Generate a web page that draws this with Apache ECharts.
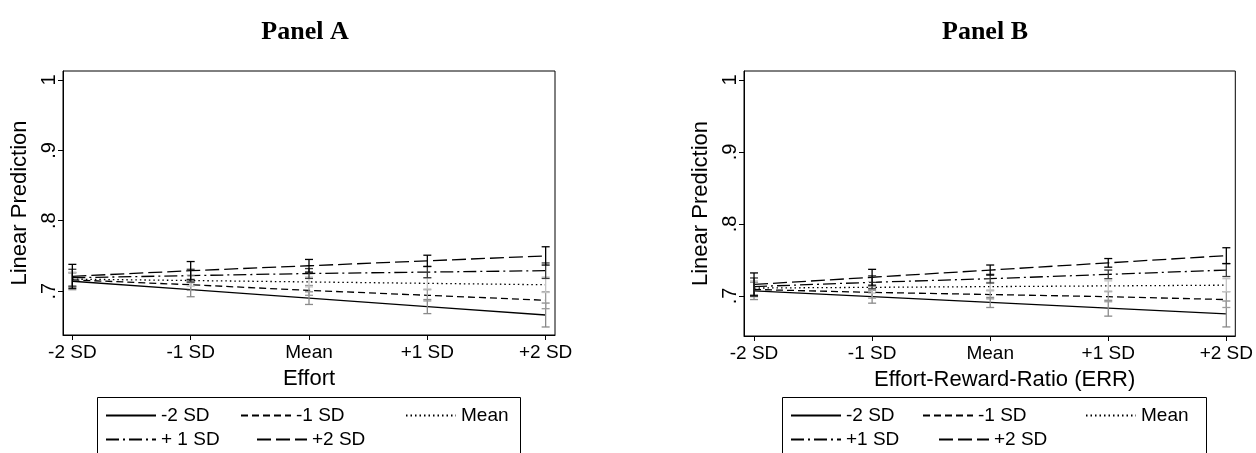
<!DOCTYPE html>
<html>
<head>
<meta charset="utf-8">
<script src="https://cdn.jsdelivr.net/npm/echarts@6/dist/echarts.min.js"></script>
<style>
  html, body { margin: 0; padding: 0; background: #fff; }
  #chart { width: 1256px; height: 453px; }
</style>
</head>
<body>
<div id="chart"></div>
<script>
// x positions (in SD units) and their labels
const xVals = [-2, -1, 0, 1, 2];
const xLabels = ['-2 SD', '-1 SD', 'Mean', '+1 SD', '+2 SD'];
const yTicks = [0.7, 0.8, 0.9, 1];

// Panel A: Effort, lines = moderator levels
const aM2 = [0.714, 0.702, 0.690, 0.678, 0.666];
const aM2ci = [0.012, 0.010, 0.009, 0.010, 0.017];
const aM1 = [0.716, 0.709, 0.701, 0.694, 0.687];
const aM1ci = [0.010, 0.008, 0.007, 0.008, 0.012];
const aMean = [0.717, 0.715, 0.713, 0.711, 0.709];
const aMeanci = [0.010, 0.008, 0.007, 0.008, 0.011];
const aP1 = [0.719, 0.722, 0.725, 0.727, 0.729];
const aP1ci = [0.012, 0.009, 0.007, 0.008, 0.011];
const aP2 = [0.721, 0.729, 0.736, 0.743, 0.750];
const aP2ci = [0.017, 0.013, 0.009, 0.008, 0.013];

// Panel B: Effort-Reward-Ratio
const bM2 = [0.707, 0.699, 0.691, 0.683, 0.675];
const bM2ci = [0.012, 0.009, 0.007, 0.011, 0.018];
const bM1 = [0.709, 0.705, 0.702, 0.699, 0.695];
const bM1ci = [0.010, 0.008, 0.006, 0.007, 0.011];
const bMean = [0.711, 0.712, 0.713, 0.714, 0.715];
const bMeanci = [0.010, 0.008, 0.006, 0.007, 0.009];
const bP1 = [0.713, 0.719, 0.724, 0.730, 0.736];
const bP1ci = [0.012, 0.009, 0.006, 0.006, 0.009];
const bP2 = [0.716, 0.726, 0.736, 0.746, 0.756];
const bP2ci = [0.016, 0.011, 0.007, 0.006, 0.011];

const FONT = '"Liberation Sans", Arial, sans-serif';

// line look per level
const styles = [
  { type: 'solid', ci: '#8a8a8a' },
  { type: [7, 4], ci: '#9a9a9a' },
  { type: [1.5, 3], ci: '#c4c4c4' },
  { type: [13, 4, 2, 4], ci: '#3a3a3a' },
  { type: [14, 5], ci: '#000000' },
];

const chart = echarts.init(document.getElementById('chart'));

function pairs(ys) { return xVals.map((x, i) => [x, ys[i]]); }
function bars(ys, ci) { return xVals.map((x, i) => [x, ys[i] - ci[i], ys[i] + ci[i]]); }

function errRender(color) {
  return function (params, api) {
    const x = api.value(0);
    const lo = api.coord([x, api.value(1)]);
    const hi = api.coord([x, api.value(2)]);
    const w = 4;
    const st = { stroke: color, lineWidth: 1.3, fill: null };
    return {
      type: 'group',
      children: [
        { type: 'line', shape: { x1: lo[0], y1: lo[1], x2: hi[0], y2: hi[1] }, style: st },
        { type: 'line', shape: { x1: lo[0] - w, y1: lo[1], x2: lo[0] + w, y2: lo[1] }, style: st },
        { type: 'line', shape: { x1: hi[0] - w, y1: hi[1], x2: hi[0] + w, y2: hi[1] }, style: st },
      ],
    };
  };
}

function panelSeries(gi, names, lines, cis) {
  const out = [];
  lines.forEach((ys, k) => {
    out.push({
      type: 'custom', xAxisIndex: gi, yAxisIndex: gi, name: 'ci' + gi + k,
      renderItem: errRender(styles[k].ci), data: bars(ys, cis[k]), silent: true, z: 3,
    });
  });
  lines.forEach((ys, k) => {
    out.push({
      type: 'line', xAxisIndex: gi, yAxisIndex: gi, name: names[k],
      data: pairs(ys), symbol: 'none', z: 2,
      lineStyle: { color: '#000', width: 1.3, type: styles[k].type },
      itemStyle: { color: '#000' },
    });
  });
  return out;
}

const namesA = ['-2 SD', '-1 SD', 'Mean', '+ 1 SD', '+2 SD'];
const namesB = ['-2 SD', '-1 SD', 'Mean', '+1 SD', '+2 SD'];

function xAxis(gi, name, min, max, namePad) {
  return {
    type: 'value', gridIndex: gi, min: min, max: max,
    name: name, nameLocation: 'middle', nameGap: 33,
    nameTextStyle: { fontFamily: FONT, fontSize: 22, color: '#000', padding: namePad },
    axisLine: { show: true, onZero: false, lineStyle: { color: '#000', width: 1 } },
    axisTick: { show: true, length: 5, lineStyle: { color: '#000' }, customValues: xVals },
    axisLabel: {
      fontFamily: FONT, fontSize: 19, color: '#000', margin: 8,
      customValues: xVals, formatter: v => xLabels[xVals.indexOf(Math.round(v))],
    },
    splitLine: { show: false },
  };
}

function yAxis(gi, min, max) {
  return {
    type: 'value', gridIndex: gi, min: min, max: max,
    name: 'Linear Prediction', nameLocation: 'middle', nameGap: 32,
    nameTextStyle: { fontFamily: FONT, fontSize: 22, color: '#000' },
    axisLine: { show: true, onZero: false, lineStyle: { color: '#000', width: 1 } },
    axisTick: { show: true, length: 5, lineStyle: { color: '#000' }, customValues: yTicks },
    axisLabel: {
      fontFamily: FONT, fontSize: 20, color: '#000', margin: 4, rotate: 90,
      customValues: yTicks, formatter: v => (v >= 0.999 ? '1' : String(Math.round(v * 10) / 10).replace('0.', '.')),
    },
    splitLine: { show: false },
  };
}

function legendItem(name, left, top) {
  return {
    data: [name], left: left, top: top, padding: 0, itemWidth: 50, itemHeight: 14,
    selectedMode: false,
    itemStyle: { color: 'rgba(0,0,0,0)', borderColor: 'rgba(0,0,0,0)', borderWidth: 0 },
    textStyle: { fontFamily: FONT, fontSize: 19, color: '#000' },
  };
}

chart.setOption({
  animation: false,
  title: [
    { text: 'Panel A', left: 300, top: 14, textAlign: 'center',
      textStyle: { fontFamily: '"Liberation Serif", serif', fontWeight: 'bold', fontSize: 26, color: '#000' } },
    { text: 'Panel B', left: 980, top: 14, textAlign: 'center',
      textStyle: { fontFamily: '"Liberation Serif", serif', fontWeight: 'bold', fontSize: 26, color: '#000' } },
  ],
  grid: [
    { left: 63, top: 71, width: 492, height: 264, show: true, borderColor: '#000', borderWidth: 1 },
    { left: 744, top: 71, width: 492, height: 265, show: true, borderColor: '#000', borderWidth: 1 },
  ],
  xAxis: [
    xAxis(0, 'Effort', -2.079, 2.079, [0, 0, 0, 0]),
    xAxis(1, 'Effort-Reward-Ratio (ERR)', -2.085, 2.076, [0, 0, 0, 30]),
  ],
  yAxis: [
    yAxis(0, 0.6376, 1.0128),
    yAxis(1, 0.6444, 1.0125),
  ],
  legend: [
    legendItem('-2 SD', 105, 406), legendItem('-1 SD', 240, 406), legendItem('Mean', 405, 406),
    legendItem('+ 1 SD', 105, 430), legendItem('+2 SD', 256, 430),
    legendItem('-2 SD', 790, 406), legendItem('-1 SD', 922, 406), legendItem('Mean', 1085, 406),
    legendItem('+1 SD', 790, 430), legendItem('+2 SD', 938, 430),
  ],
  graphic: [
    { type: 'rect', shape: { x: 97.5, y: 397.5, width: 423, height: 70 }, style: { stroke: '#000', lineWidth: 1, fill: null } },
    { type: 'rect', shape: { x: 782.5, y: 397.5, width: 424, height: 70 }, style: { stroke: '#000', lineWidth: 1, fill: null } },
  ],
  series: [
    ...panelSeries(0, namesA, [aM2, aM1, aMean, aP1, aP2], [aM2ci, aM1ci, aMeanci, aP1ci, aP2ci]),
    ...panelSeries(1, namesB, [bM2, bM1, bMean, bP1, bP2], [bM2ci, bM1ci, bMeanci, bP1ci, bP2ci]),
  ],
});
</script>
</body>
</html>
